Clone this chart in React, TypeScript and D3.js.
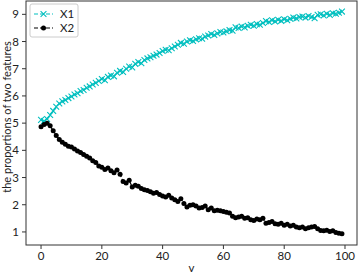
import React from "react";
import * as d3 from "d3";

const V: number[] = d3.range(0, 100);
const X1: number[] = [
  5.12, 5.08, 5.15, 5.30, 5.45, 5.60, 5.72, 5.80, 5.85, 5.92,
  5.98, 6.05, 6.10, 6.18, 6.22, 6.30, 6.35, 6.42, 6.48, 6.55,
  6.62, 6.58, 6.70, 6.75, 6.72, 6.85, 6.92, 6.88, 7.00, 7.08,
  7.05, 7.18, 7.25, 7.20, 7.32, 7.38, 7.42, 7.48, 7.52, 7.58,
  7.65, 7.70, 7.68, 7.75, 7.82, 7.88, 7.95, 7.92, 8.00, 8.05,
  8.02, 8.08, 8.12, 8.10, 8.18, 8.22, 8.28, 8.24, 8.30, 8.35,
  8.33, 8.38, 8.42, 8.40, 8.52, 8.50, 8.55, 8.52, 8.58, 8.62,
  8.58, 8.64, 8.62, 8.68, 8.75, 8.72, 8.78, 8.74, 8.80, 8.76,
  8.82, 8.78, 8.84, 8.88, 8.85, 8.90, 8.92, 8.88, 8.94, 8.90,
  8.86, 8.98, 9.00, 8.96, 9.02, 8.98, 9.04, 9.02, 9.06, 9.10,
];
const X2: number[] = [
  4.87, 4.95, 5.00, 4.90, 4.72, 4.55, 4.40, 4.30, 4.22, 4.15,
  4.12, 4.05, 3.98, 3.92, 3.85, 3.78, 3.72, 3.62, 3.55, 3.42,
  3.38, 3.30, 3.35, 3.25, 3.18, 3.28, 3.12, 2.85, 2.80, 2.90,
  2.65, 2.72, 2.68, 2.60, 2.55, 2.52, 2.48, 2.42, 2.45, 2.38,
  2.32, 2.28, 2.35, 2.25, 2.18, 2.12, 2.22, 2.05, 1.92, 1.98,
  2.00, 1.95, 1.88, 1.90, 1.95, 1.82, 1.88, 1.78, 1.80, 1.78,
  1.75, 1.72, 1.70, 1.58, 1.52, 1.55, 1.58, 1.50, 1.52, 1.45,
  1.42, 1.48, 1.45, 1.50, 1.32, 1.35, 1.38, 1.30, 1.28, 1.32,
  1.25, 1.28, 1.22, 1.25, 1.18, 1.15, 1.18, 1.12, 1.15, 1.18,
  1.20, 1.12, 1.05, 1.04, 1.06, 1.02, 1.04, 0.98, 0.95, 0.93,
];
const X_TICKS = [0, 20, 40, 60, 80, 100];
const Y_TICKS = [1, 2, 3, 4, 5, 6, 7, 8, 9];
const SERIES_NAMES = ["X1", "X2"];

const W = 359, H = 274;
const L = 26, R = 357, T = 1, B = 245;
const FONT = "Lato, 'DejaVu Sans', sans-serif";
const CYAN = "#00bfbf";
const AX = "#333";

export default function App() {
  const x = d3.scaleLinear().domain([-4.95, 103.95]).range([L, R]);
  const y = d3.scaleLinear().domain([0.52, 9.49]).range([B, T]);
  const line = (ys: number[]) =>
    d3.line<number>().x((_, i) => x(V[i])).y((d) => y(d))(ys) || "";
  const s = 2.9;
  const cross = (cx: number, cy: number) =>
    `M${cx - s},${cy - s}L${cx + s},${cy + s}M${cx - s},${cy + s}L${cx + s},${cy - s}`;
  return (
    <svg width={W} height={H} style={{ position: "absolute", left: 0, top: 0, background: "#fff" }}
      fontFamily={FONT}>
      <rect x={0} y={0} width={W} height={H} fill="#fff" />
      <path d={line(X1)} fill="none" stroke={CYAN} strokeWidth={1.2} strokeDasharray="4,2" />
      {X1.map((d, i) => (
        <path key={"a" + i} d={cross(x(V[i]), y(d))} stroke={CYAN} strokeWidth={1.1} fill="none" />
      ))}
      <path d={line(X2)} fill="none" stroke="#000" strokeWidth={1.2} strokeDasharray="4,2" />
      {X2.map((d, i) => (
        <circle key={"b" + i} cx={x(V[i])} cy={y(d)} r={2.5} fill="#000" />
      ))}
      <rect x={L} y={T} width={R - L} height={B - T} fill="none" stroke={AX} strokeWidth={1} />
      {X_TICKS.map((t) => (
        <g key={"xt" + t}>
          <line x1={x(t)} x2={x(t)} y1={B} y2={B + 4} stroke={AX} />
          <text x={x(t)} y={B + 15} textAnchor="middle" fontSize={11.5} fill="#222">{t}</text>
        </g>
      ))}
      {Y_TICKS.map((t) => (
        <g key={"yt" + t}>
          <line x1={L - 4} x2={L} y1={y(t)} y2={y(t)} stroke={AX} />
          <text x={L - 7} y={y(t) + 4} textAnchor="end" fontSize={11.5} fill="#222">{t}</text>
        </g>
      ))}
      <text x={(L + R) / 2} y={272} textAnchor="middle" fontSize={11.5} fill="#222">v</text>
      <text transform={`translate(11,${(T + B) / 2 - 6}) rotate(-90)`} textAnchor="middle" fontSize={11} fill="#222">
        the proportions of two features
      </text>
      <rect x={30} y={4} width={48} height={33} rx={2} fill="#fff" fillOpacity={0.8} stroke="#ccc" />
      <line x1={34} x2={53} y1={14} y2={14} stroke={CYAN} strokeWidth={1.2} strokeDasharray="4,2" />
      <path d={cross(43.5, 14)} stroke={CYAN} strokeWidth={1.1} />
      <text x={60} y={18} fontSize={11.5} fill="#222">{SERIES_NAMES[0]}</text>
      <line x1={34} x2={53} y1={28} y2={28} stroke="#000" strokeWidth={1.2} strokeDasharray="4,2" />
      <circle cx={43.5} cy={28} r={2.5} fill="#000" />
      <text x={60} y={32} fontSize={11.5} fill="#222">{SERIES_NAMES[1]}</text>
    </svg>
  );
}
